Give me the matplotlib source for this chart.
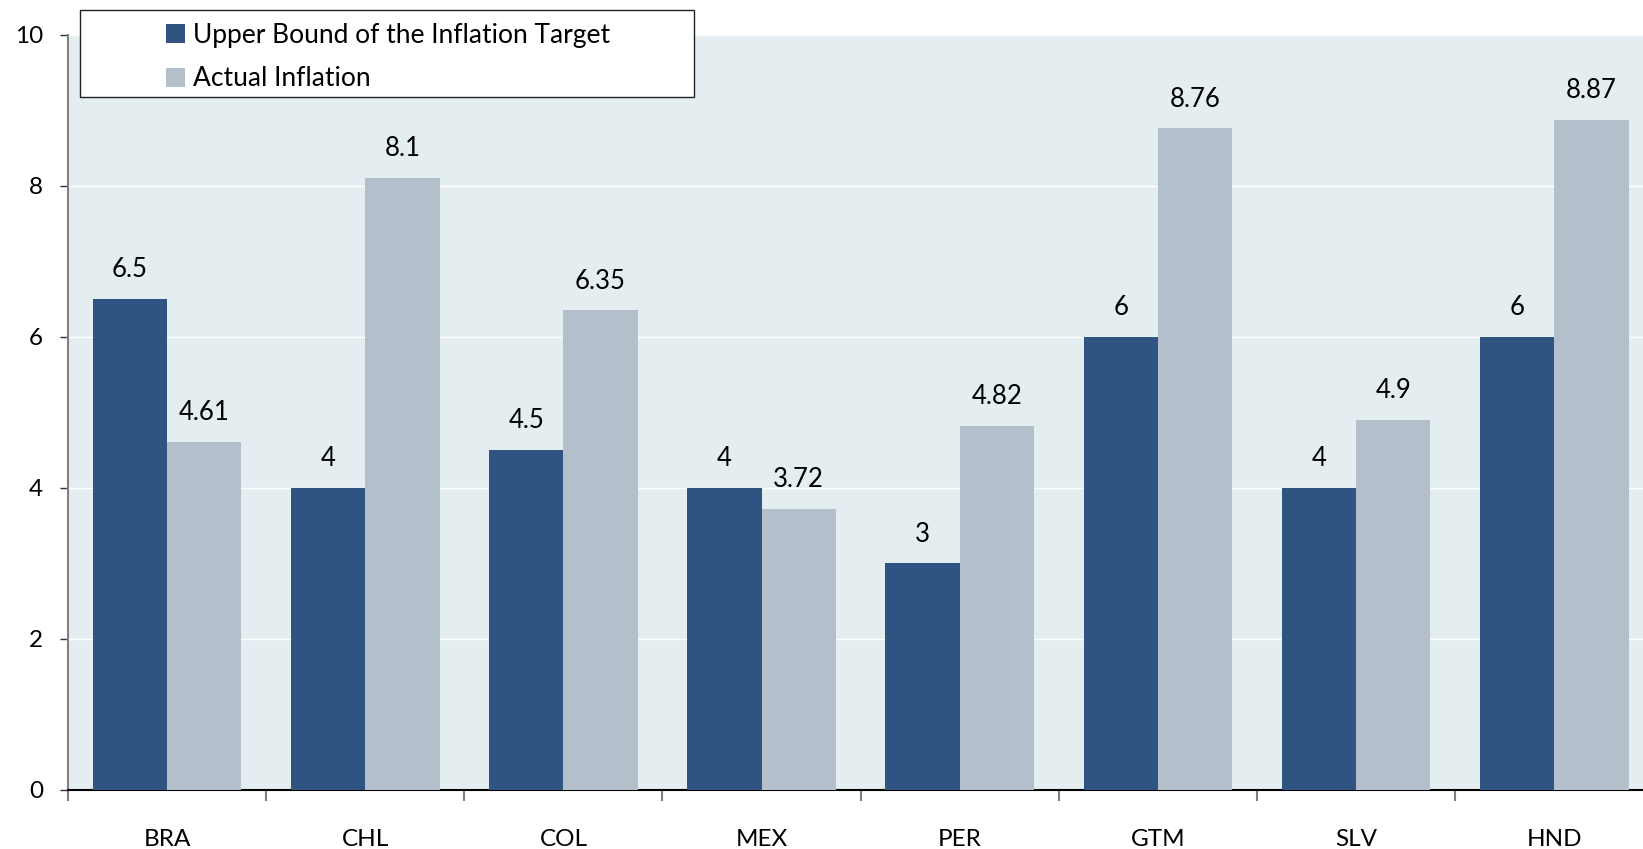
import matplotlib
matplotlib.use("Agg")
import matplotlib.pyplot as plt
import numpy as np
from matplotlib.patches import Rectangle

categories = ["BRA", "CHL", "COL", "MEX", "PER", "GTM", "SLV", "HND"]
upper_bound = [6.5, 4, 4.5, 4, 3, 6, 4, 6]
actual = [4.61, 8.1, 6.35, 3.72, 4.82, 8.76, 4.9, 8.87]
upper_labels = ["6.5", "4", "4.5", "4", "3", "6", "4", "6"]
actual_labels = ["4.61", "8.1", "6.35", "3.72", "4.82", "8.76", "4.9", "8.87"]
yticks = [0, 2, 4, 6, 8, 10]

plt.rcParams['font.family'] = ['Lato', 'DejaVu Sans']
FS = 17.5
FS_LAB = 18.5
FS_LEG = 19
dark = "#2F5481"
light = "#B3BFCB"
bg = "#E4EEF0"

fig = plt.figure(figsize=(16.43, 8.49), dpi=100)
ax = fig.add_axes([68/1643, 1-790/849, 1-68/1643, (790-34.6)/849])
ax.set_facecolor(bg)

x = np.arange(len(categories))
w = 0.375
b1 = ax.bar(x - w/2, upper_bound, w, color=dark, label="Upper Bound of the Inflation Target", zorder=3)
b2 = ax.bar(x + w/2, actual, w, color=light, label="Actual Inflation", zorder=3)

for rect, lab in zip(b1, upper_labels):
    ax.annotate(lab, (rect.get_x() + rect.get_width()/2, rect.get_height()),
                xytext=(0, 12), textcoords="offset points", ha="center", va="bottom", fontsize=FS_LAB)
for rect, lab in zip(b2, actual_labels):
    ax.annotate(lab, (rect.get_x() + rect.get_width()/2, rect.get_height()),
                xytext=(0, 12), textcoords="offset points", ha="center", va="bottom", fontsize=FS_LAB)

ax.set_yticks(yticks)
ax.set_yticklabels([str(t) for t in yticks], fontsize=FS)
ax.yaxis.grid(True, color="white", linewidth=1, zorder=0)
ax.set_axisbelow(True)
ax.tick_params(axis="y", direction="out", length=6, width=1, color="#333333", pad=12)

ax.set_xticks(x)
ax.set_xticklabels(categories, fontsize=FS)
ax.tick_params(axis="x", which="major", length=0, pad=28)
ax.set_xticks(np.arange(-0.5, 7.6, 1), minor=True)
ax.tick_params(axis="x", which="minor", direction="out", length=8, width=1.5, color="#808080")

ax.set_ylim(0, 10)
ax.set_xlim(-0.5, 7.448)

for s in ["top", "right"]:
    ax.spines[s].set_visible(False)
ax.spines["left"].set_color("#808080")
ax.spines["left"].set_linewidth(1.5)
ax.spines["bottom"].set_color("black")
ax.spines["bottom"].set_linewidth(1.5)

# legend frame
fig.patches.append(Rectangle((80/1643, 1-97/849), (694-80)/1643, (97-10)/849,
                             transform=fig.transFigure, facecolor="white",
                             edgecolor="#222222", linewidth=1, zorder=5))
leg = fig.legend(handles=[b1, b2], loc="upper left",
                 bbox_to_anchor=(166/1643, 1-23/849), frameon=False, fontsize=FS_LEG,
                 handlelength=0.72, handleheight=0.72, handletextpad=0.3,
                 labelspacing=0.7, borderpad=0, borderaxespad=0)
leg.set_zorder(6)

fig.savefig("out.png", dpi=100)
